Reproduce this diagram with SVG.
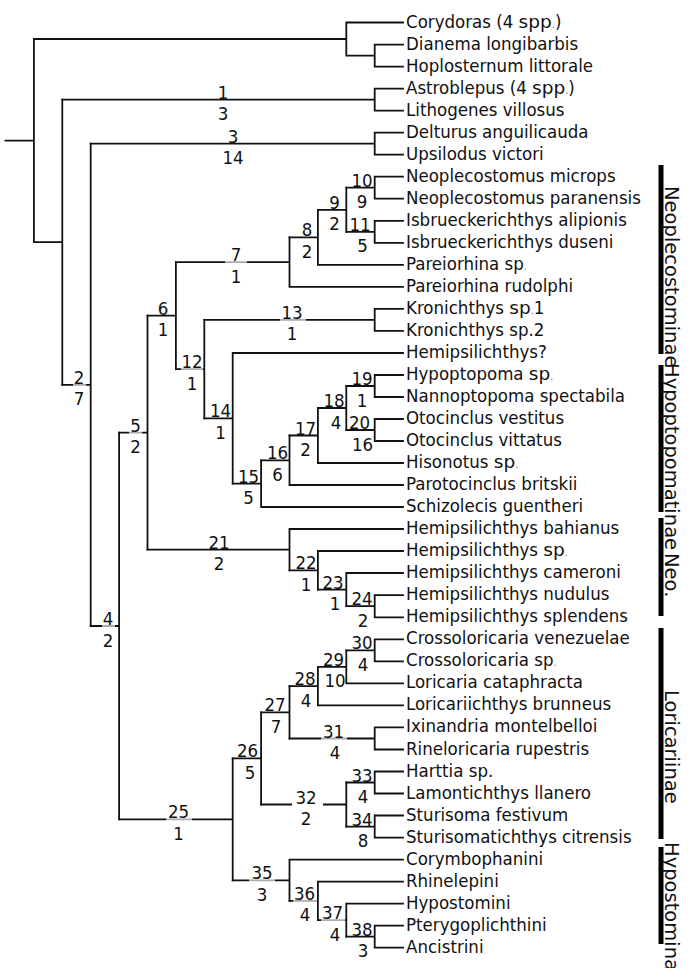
<svg xmlns="http://www.w3.org/2000/svg" width="695" height="968" viewBox="0 0 695 968">
<style>
.e{fill:none;stroke:#111;stroke-width:1.8;stroke-linecap:square}
.tx{font-family:"DejaVu Sans Condensed","DejaVu Sans",sans-serif;font-stretch:condensed;font-size:18.5px;fill:#111}
.num{font-family:"DejaVu Sans Condensed","DejaVu Sans",sans-serif;font-stretch:condensed;font-size:18.5px;fill:#111;text-anchor:middle}
.wd{font-family:"DejaVu Sans",sans-serif;font-stretch:normal}
.dt{font-size:11px;fill:#777}
.cl{font-family:"DejaVu Sans",sans-serif;font-size:19.5px;fill:#111}
.bar{fill:#000}
.bg{fill:#fff;fill-opacity:0.65}
</style>
<rect width="695" height="968" fill="#fff"/>
<g id="connectors">
<path class="e" d="M5.5 140.6H33.9M33.9 39V242.2"/>
<path class="e" d="M33.9 39H346.3M346.3 22.5V55.6M346.3 22.5H403M346.3 55.6H374.7M374.7 44.6V66.6M374.7 44.6H403M374.7 66.6H403"/>
<path class="e" d="M33.9 242.2H62.3M62.3 99.6V384.9"/>
<path class="e" d="M62.3 99.6H374.7M374.7 88.6V110.6M374.7 88.6H403M374.7 110.6H403"/>
<path class="e" d="M62.3 384.9H90.7M90.7 143.7V626"/>
<path class="e" d="M90.7 143.7H374.7M374.7 132.7V154.7M374.7 132.7H403M374.7 154.7H403"/>
<path class="e" d="M90.7 626H119.1M119.1 432.6V819.3"/>
<path class="e" d="M119.1 432.6H147.5M147.5 315.6V549.7"/>
<path class="e" d="M147.5 315.6H175.9M175.9 262.1V369.1"/>
<path class="e" d="M175.9 262.1H289.5M289.5 237.3V286.9M289.5 286.9H403"/>
<path class="e" d="M289.5 237.3H317.9M317.9 209.8V264.8M317.9 264.8H403"/>
<path class="e" d="M317.9 209.8H346.3M346.3 187.7V231.8"/>
<path class="e" d="M346.3 187.7H374.7M374.7 176.7V198.7M374.7 176.7H403M374.7 198.7H403"/>
<path class="e" d="M346.3 231.8H374.7M374.7 220.8V242.8M374.7 220.8H403M374.7 242.8H403"/>
<path class="e" d="M175.9 369.1H204.3M204.3 319.9V418.3"/>
<path class="e" d="M204.3 319.9H374.7M374.7 308.9V330.9M374.7 308.9H403M374.7 330.9H403"/>
<path class="e" d="M204.3 418.3H232.7M232.7 353V483.6M232.7 353H403"/>
<path class="e" d="M232.7 483.6H261.1M261.1 460.3V507M261.1 507H403"/>
<path class="e" d="M261.1 460.3H289.5M289.5 435.5V485M289.5 485H403"/>
<path class="e" d="M289.5 435.5H317.9M317.9 408V463M317.9 463H403"/>
<path class="e" d="M317.9 408H346.3M346.3 386V430"/>
<path class="e" d="M346.3 386H374.7M374.7 375V397M374.7 375H403M374.7 397H403"/>
<path class="e" d="M346.3 430H374.7M374.7 419V441M374.7 419H403M374.7 441H403"/>
<path class="e" d="M147.5 549.7H289.5M289.5 529V570.3M289.5 529H403"/>
<path class="e" d="M289.5 570.3H317.9M317.9 551V589.6M317.9 551H403"/>
<path class="e" d="M317.9 589.6H346.3M346.3 573V606.2M346.3 573H403"/>
<path class="e" d="M346.3 606.2H374.7M374.7 595.1V617.3M374.7 595.1H403M374.7 617.3H403"/>
<path class="e" d="M119.1 819.3H232.7M232.7 758.4V880.3"/>
<path class="e" d="M232.7 758.4H261.1M261.1 712.3V804.5"/>
<path class="e" d="M261.1 712.3H289.5M289.5 686.1V738.5"/>
<path class="e" d="M289.5 686.1H317.9M317.9 666.9V705.4M317.9 705.4H403"/>
<path class="e" d="M317.9 666.9H346.3M346.3 650.3V683.4M346.3 683.4H403"/>
<path class="e" d="M346.3 650.3H374.7M374.7 639.3V661.3M374.7 639.3H403M374.7 661.3H403"/>
<path class="e" d="M289.5 738.5H374.7M374.7 727.4V749.5M374.7 727.4H403M374.7 749.5H403"/>
<path class="e" d="M261.1 804.5H346.3M346.3 782.5V826.6"/>
<path class="e" d="M346.3 782.5H374.7M374.7 771.5V793.5M374.7 771.5H403M374.7 793.5H403"/>
<path class="e" d="M346.3 826.6H374.7M374.7 815.5V837.6M374.7 815.5H403M374.7 837.6H403"/>
<path class="e" d="M232.7 880.3H289.5M289.5 859.6V900.9M289.5 859.6H403"/>
<path class="e" d="M289.5 900.9H317.9M317.9 881.6V920.2M317.9 881.6H403"/>
<path class="e" d="M317.9 920.2H346.3M346.3 903.7V936.7M346.3 903.7H403"/>
<path class="e" d="M346.3 936.7H374.7M374.7 925.7V947.7M374.7 925.7H403M374.7 947.7H403"/>
</g>
<g id="taxa" class="tx">
<g id="t00"><text x="406" y="27.5">Corydoras (4 <tspan class="wd">spp</tspan><tspan class="dt">.</tspan>)</text></g>
<g id="t01"><text x="406" y="49.6">Dianema longibarbis</text></g>
<g id="t02"><text x="406" y="71.6">Hoplosternum littorale</text></g>
<g id="t03"><text x="406" y="93.6">Astroblepus (4 <tspan class="wd">spp</tspan><tspan class="dt">.</tspan>)</text></g>
<g id="t04"><text x="406" y="115.6">Lithogenes villosus</text></g>
<g id="t05"><text x="406" y="137.7">Delturus anguilicauda</text></g>
<g id="t06"><text x="406" y="159.7">Upsilodus victori</text></g>
<g id="t07"><text x="406" y="181.7">Neoplecostomus microps</text></g>
<g id="t08"><text x="406" y="203.7">Neoplecostomus paranensis</text></g>
<g id="t09"><text x="406" y="225.8">Isbrueckerichthys alipionis</text></g>
<g id="t10"><text x="406" y="247.8">Isbrueckerichthys duseni</text></g>
<g id="t11"><text x="406" y="269.8">Pareiorhina sp<tspan class="dt">.</tspan></text></g>
<g id="t12"><text x="406" y="291.9">Pareiorhina rudolphi</text></g>
<g id="t13"><text x="406" y="313.9">Kronichthys <tspan class="wd">sp</tspan><tspan class="dt">.</tspan>1</text></g>
<g id="t14"><text x="406" y="335.9">Kronichthys sp.2</text></g>
<g id="t15"><text x="406" y="358">Hemipsilichthys?</text></g>
<g id="t16"><text x="406" y="380">Hypoptopoma <tspan class="wd">sp</tspan><tspan class="dt">.</tspan></text></g>
<g id="t17"><text x="406" y="402">Nannoptopoma spectabila</text></g>
<g id="t18"><text x="406" y="424">Otocinclus vestitus</text></g>
<g id="t19"><text x="406" y="446">Otocinclus vittatus</text></g>
<g id="t20"><text x="406" y="468">Hisonotus <tspan class="wd">sp</tspan><tspan class="dt">.</tspan></text></g>
<g id="t21"><text x="406" y="490">Parotocinclus britskii</text></g>
<g id="t22"><text x="406" y="512">Schizolecis guentheri</text></g>
<g id="t23"><text x="406" y="534">Hemipsilichthys bahianus</text></g>
<g id="t24"><text x="406" y="556">Hemipsilichthys <tspan class="wd">sp</tspan><tspan class="dt">.</tspan></text></g>
<g id="t25"><text x="406" y="578">Hemipsilichthys cameroni</text></g>
<g id="t26"><text x="406" y="600.1">Hemipsilichthys nudulus</text></g>
<g id="t27"><text x="406" y="622.3">Hemipsilichthys splendens</text></g>
<g id="t28"><text x="406" y="644.3">Crossoloricaria venezuelae</text></g>
<g id="t29"><text x="406" y="666.3">Crossoloricaria sp<tspan class="dt">.</tspan></text></g>
<g id="t30"><text x="406" y="688.4">Loricaria cataphracta</text></g>
<g id="t31"><text x="406" y="710.4">Loricariichthys brunneus</text></g>
<g id="t32"><text x="406" y="732.4">Ixinandria montelbelloi</text></g>
<g id="t33"><text x="406" y="754.5">Rineloricaria rupestris</text></g>
<g id="t34"><text x="406" y="776.5">Harttia sp.</text></g>
<g id="t35"><text x="406" y="798.5">Lamontichthys llanero</text></g>
<g id="t36"><text x="406" y="820.5">Sturisoma festivum</text></g>
<g id="t37"><text x="406" y="842.6">Sturisomatichthys citrensis</text></g>
<g id="t38"><text x="406" y="864.6">Corymbophanini</text></g>
<g id="t39"><text x="406" y="886.6">Rhinelepini</text></g>
<g id="t40"><text x="406" y="908.7">Hypostomini</text></g>
<g id="t41"><text x="406" y="930.7">Pterygoplichthini</text></g>
<g id="t42"><text x="406" y="952.7">Ancistrini</text></g>
</g>
<g id="nodes" class="num">
<g id="n1"><text x="223" y="98.6">1</text><text x="223" y="120.1">3</text></g>
<g id="n3"><text x="233" y="142.7">3</text><text x="233" y="164.2">14</text></g>
<g id="n2"><rect class="bg" x="73" y="382.5" width="13" height="5"/><text x="79" y="383.9">2</text><text x="79" y="405.4">7</text></g>
<g id="n4"><rect class="bg" x="102" y="623.5" width="13" height="5"/><text x="108" y="625">4</text><text x="108" y="646.5">2</text></g>
<g id="n5"><rect class="bg" x="129" y="430" width="13" height="5"/><text x="135.5" y="431.6">5</text><text x="135.5" y="453.1">2</text></g>
<g id="n6"><text x="163" y="314.6">6</text><text x="163" y="336.1">1</text></g>
<g id="n7"><rect class="bg" x="225" y="259.6" width="22" height="5"/><text x="236" y="261.1">7</text><text x="236" y="282.6">1</text></g>
<g id="n8"><text x="307" y="236.3">8</text><text x="307" y="257.8">2</text></g>
<g id="n9"><text x="334.5" y="208.8">9</text><text x="334.5" y="230.3">2</text></g>
<g id="n10"><text x="362" y="186.7">10</text><text x="362" y="208.2">9</text></g>
<g id="n11"><text x="360" y="230.8">11</text><text x="362.5" y="252.3">5</text></g>
<g id="n12"><rect class="bg" x="181" y="366.6" width="22" height="5"/><text x="192" y="368.1">12</text><text x="192" y="389.6">1</text></g>
<g id="n13"><rect class="bg" x="280" y="317.4" width="26" height="5"/><text x="292" y="318.9">13</text><text x="292" y="340.4">1</text></g>
<g id="n14"><text x="220.5" y="417.3">14</text><text x="220.5" y="438.8">1</text></g>
<g id="n15"><text x="248.5" y="482.6">15</text><text x="248.5" y="504.1">5</text></g>
<g id="n16"><text x="277.5" y="459.3">16</text><text x="277.5" y="480.8">6</text></g>
<g id="n17"><text x="305.5" y="434.5">17</text><text x="305.5" y="456">2</text></g>
<g id="n18"><text x="334" y="407">18</text><text x="336" y="428.5">4</text></g>
<g id="n19"><text x="362" y="385">19</text><text x="362" y="406.5">1</text></g>
<g id="n20"><text x="359.5" y="429">20</text><text x="362.5" y="450.5">16</text></g>
<g id="n21"><text x="219" y="548.7">21</text><text x="219" y="570.2">2</text></g>
<g id="n22"><text x="306" y="569.3">22</text><text x="306" y="590.8">1</text></g>
<g id="n23"><text x="333" y="588.6">23</text><text x="335" y="610.1">1</text></g>
<g id="n24"><text x="362" y="605.2">24</text><text x="363" y="626.7">2</text></g>
<g id="n25"><rect class="bg" x="166" y="816.8" width="26" height="5"/><text x="178.5" y="818.3">25</text><text x="178.5" y="839.8">1</text></g>
<g id="n26"><text x="247.5" y="757.4">26</text><text x="250" y="778.9">5</text></g>
<g id="n27"><text x="275" y="711.3">27</text><text x="276" y="732.8">7</text></g>
<g id="n28"><text x="305" y="685.1">28</text><text x="306" y="706.6">4</text></g>
<g id="n29"><text x="333.5" y="665.9">29</text><text x="335" y="687.4">10</text></g>
<g id="n30"><text x="362" y="649.3">30</text><text x="363" y="670.8">4</text></g>
<g id="n31"><rect class="bg" x="321" y="736" width="26" height="5"/><text x="333.5" y="737.5">31</text><text x="335" y="759">4</text></g>
<g id="n32"><rect x="292" y="801.5" width="31" height="6" fill="#fff"/><text x="306" y="803.5">32</text><text x="306" y="825">2</text></g>
<g id="n33"><text x="362" y="781.5">33</text><text x="363" y="803">4</text></g>
<g id="n34"><text x="362" y="825.6">34</text><text x="363" y="847.1">8</text></g>
<g id="n35"><rect class="bg" x="249" y="877.8" width="26" height="5"/><text x="262" y="879.3">35</text><text x="262" y="900.8">3</text></g>
<g id="n36"><rect class="bg" x="293" y="898.4" width="24" height="5"/><text x="304.5" y="899.9">36</text><text x="305" y="921.4">4</text></g>
<g id="n37"><rect class="bg" x="321" y="917.7" width="24" height="5"/><text x="332.5" y="919.2">37</text><text x="335" y="940.7">4</text></g>
<g id="n38"><text x="362" y="935.7">38</text><text x="363" y="957.2">3</text></g>
</g>
<g id="clades">
<g id="c-neoplecostominae"><rect class="bar" x="658.5" y="165" width="5" height="189"/><text class="cl" transform="translate(665,186) rotate(90)">Neoplecostominae</text></g>
<g id="c-hypoptopomatinae"><rect class="bar" x="658.5" y="365" width="5" height="147"/><text class="cl" transform="translate(665,363) rotate(90)">Hypoptopomatinae</text></g>
<g id="c-neo"><rect class="bar" x="658.5" y="518" width="5" height="98"/><text class="cl" transform="translate(665,553) rotate(90)">Neo.</text></g>
<g id="c-loricariinae"><rect class="bar" x="658.5" y="628" width="5" height="211"/><text class="cl" transform="translate(665,690) rotate(90)">Loricariinae</text></g>
<g id="c-hypostominae"><rect class="bar" x="658.5" y="847" width="5" height="97"/><text class="cl" transform="translate(665,842) rotate(90)">Hypostominae</text></g>
</g>
</svg>
